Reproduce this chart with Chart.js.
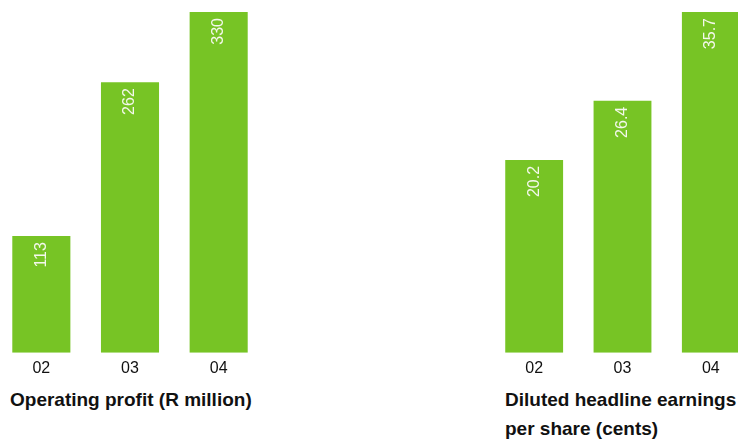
<!DOCTYPE html>
<html>
<head>
<meta charset="utf-8">
<script src="https://cdn.jsdelivr.net/npm/chart.js@4.4.1/dist/chart.umd.min.js"></script>
<style>
  html, body { margin: 0; padding: 0; background: #fff; }
  body { width: 738px; height: 439px; position: relative; overflow: hidden; font-family: "Liberation Sans", Arial, sans-serif; }
  .box { position: absolute; top: 12px; height: 372px; }
  #wrap1 { left: -3px; width: 266px; }
  #wrap2 { left: 490px; width: 265px; }
  .title { position: absolute; font-weight: bold; font-size: 19px; line-height: 29px; color: #111; }
  #title1 { left: 10px; top: 385px; }
  #title2 { left: 505px; top: 385px; }
</style>
</head>
<body>
<div class="box" id="wrap1"><canvas id="chart1"></canvas></div>
<div class="box" id="wrap2"><canvas id="chart2"></canvas></div>
<div class="title" id="title1">Operating profit (R million)</div>
<div class="title" id="title2">Diluted headline earnings<br>per share (cents)</div>
<script>
// data
const years = ['02', '03', '04'];
const operatingProfit = [113, 262, 330];
const headlineEps = [20.2, 26.4, 35.7];
const valueText1 = ['113', '262', '330'];
const valueText2 = ['20.2', '26.4', '35.7'];

const barGreen = '#77c425';

// writes the value rotated inside the top of each bar
const valueLabels = {
  id: 'valueLabels',
  afterDatasetsDraw(chart, args, opts) {
    const ctx = chart.ctx;
    const meta = chart.getDatasetMeta(0);
    ctx.save();
    ctx.fillStyle = '#f4f8ec';
    ctx.font = '16px "Liberation Sans", Arial, sans-serif';
    ctx.textAlign = 'right';
    ctx.textBaseline = 'middle';
    meta.data.forEach((bar, i) => {
      ctx.save();
      ctx.translate(bar.x, bar.y + 6);
      ctx.rotate(-Math.PI / 2);
      ctx.fillText(opts.texts[i], 0, 0);
      ctx.restore();
    });
    ctx.restore();
  }
};

function makeChart(id, values, texts) {
  return new Chart(document.getElementById(id), {
    type: 'bar',
    data: {
      labels: years,
      datasets: [{
        data: values,
        backgroundColor: barGreen,
        categoryPercentage: 1,
        barPercentage: 0.655
      }]
    },
    options: {
      responsive: true,
      maintainAspectRatio: false,
      animation: false,
      layout: { padding: 0 },
      plugins: {
        legend: { display: false },
        tooltip: { enabled: false },
        valueLabels: { texts: texts }
      },
      scales: {
        x: {
          grid: { display: false, drawTicks: false },
          border: { display: false },
          ticks: {
            color: '#111',
            padding: 6,
            font: { family: '"Liberation Sans", Arial, sans-serif', size: 16 }
          }
        },
        y: {
          display: false,
          min: 0,
          max: Math.max(...values)
        }
      }
    },
    plugins: [valueLabels]
  });
}

makeChart('chart1', operatingProfit, valueText1);
makeChart('chart2', headlineEps, valueText2);
</script>
</body>
</html>
